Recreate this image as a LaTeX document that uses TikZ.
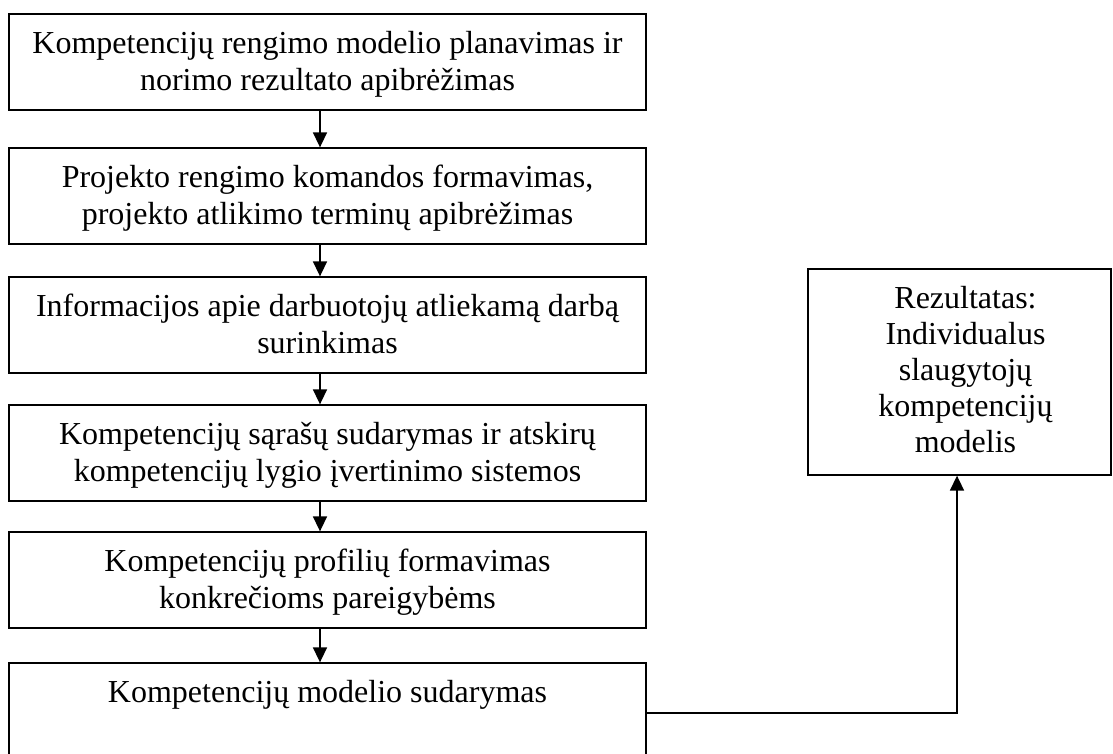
\documentclass[tikz,border=0pt]{standalone}
\usepackage{fontspec}
\setmainfont{Liberation Serif}
\usetikzlibrary{arrows.meta}
\begin{document}
\begin{tikzpicture}[x=1pt,y=-1pt,
  stepbox/.style={draw=black, line width=1.3pt, rectangle, inner sep=0pt, minimum width=637pt},
  txt/.style={anchor=north, inner sep=0pt, align=center, font=\fontsize{32}{37}\selectfont},
  arr/.style={line width=1.6pt, -{Triangle[width=14pt,length=15pt]}}]
\useasboundingbox (0,0) rectangle (1113,754);
% left column boxes
\node[stepbox, minimum height=96pt] (b1) at (327.5,62) {};
\node[stepbox, minimum height=96pt] (b2) at (327.5,196) {};
\node[stepbox, minimum height=96pt] (b3) at (327.5,325) {};
\node[stepbox, minimum height=96pt] (b4) at (327.5,453) {};
\node[stepbox, minimum height=96pt] (b5) at (327.5,580) {};
\node[stepbox, minimum height=93pt] (b6) at (327.5,709.5) {};
% right box
\node[draw=black, line width=1.3pt, rectangle, inner sep=0pt, minimum width=303pt, minimum height=206pt] (r) at (959.5,372) {};
% texts
\node[txt, yshift=-14.1pt] (t1) at (b1.north) {\strut Kompetencijų rengimo modelio planavimas ir\\norimo rezultato apibrėžimas};
\node[txt, yshift=-14.1pt] (t2) at (b2.north) {\strut Projekto rengimo komandos formavimas,\\projekto atlikimo terminų apibrėžimas};
\node[txt, yshift=-14.1pt] (t3) at (b3.north) {\strut Informacijos apie darbuotojų atliekamą darbą\\surinkimas};
\node[txt, yshift=-14.1pt] (t4) at (b4.north) {\strut Kompetencijų sąrašų sudarymas ir atskirų\\kompetencijų lygio įvertinimo sistemos};
\node[txt, yshift=-14.1pt] (t5) at (b5.north) {\strut Kompetencijų profilių formavimas\\konkrečioms pareigybėms};
\node[txt, yshift=-14.1pt] (t6) at (b6.north) {\strut Kompetencijų modelio sudarymas};
\node[txt, yshift=-14.6pt, xshift=6pt, font=\fontsize{32}{36}\selectfont] (tr) at (r.north) {\strut Rezultatas:\\Individualus\\slaugytojų\\kompetencijų\\modelis};
% connectors
\coordinate (ax) at (320,0);
\draw[arr] (b1.south -| ax) -- (b2.north -| ax);
\draw[arr] (b2.south -| ax) -- (b3.north -| ax);
\draw[arr] (b3.south -| ax) -- (b4.north -| ax);
\draw[arr] (b4.south -| ax) -- (b5.north -| ax);
\draw[arr] (b5.south -| ax) -- (b6.north -| ax);
\coordinate (c2) at (957,713);
\draw[arr] (b6.east |- c2) -- (c2) -- (c2 |- r.south);
\end{tikzpicture}
\end{document}
